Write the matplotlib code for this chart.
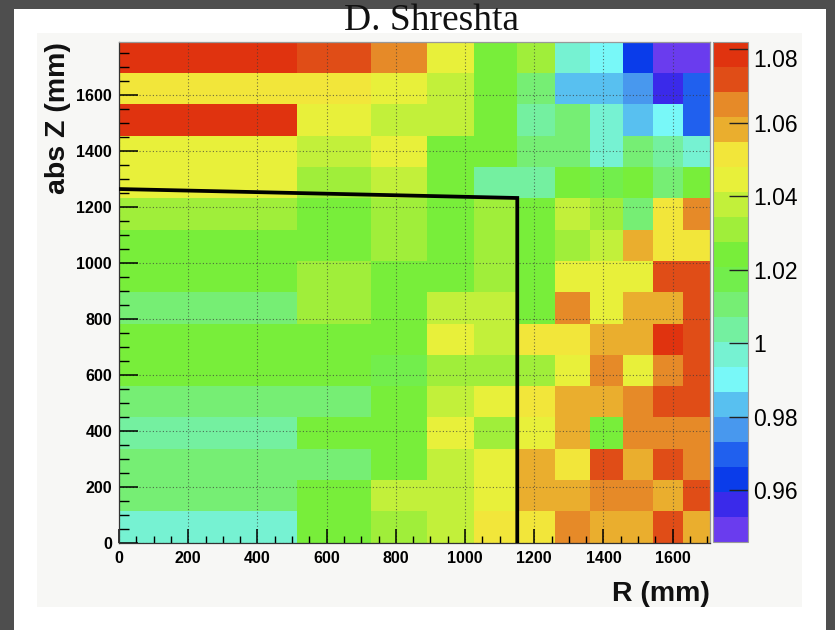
import numpy as np
import matplotlib
matplotlib.use("Agg")
from matplotlib import pyplot as plt
from matplotlib.colors import ListedColormap, BoundaryNorm
from matplotlib.ticker import MultipleLocator, FuncFormatter
from matplotlib.transforms import ScaledTranslation

# bin edges (mm)
r_edges = [0, 514, 727, 891, 1026, 1151, 1260, 1361, 1456, 1544, 1629, 1708]
z_edges = [0, 112, 224, 336, 448, 560, 672, 784, 896, 1008, 1120, 1232, 1344, 1456, 1568, 1680, 1792]

# cell values, one row per z bin (bottom row first), one column per r bin
ratio = [
    [0.997, 1.024, 1.031, 1.038, 1.051, 1.051, 1.065, 1.058, 1.058, 1.072, 1.058],
    [1.011, 1.024, 1.038, 1.038, 1.045, 1.058, 1.058, 1.065, 1.065, 1.058, 1.072],
    [1.011, 1.011, 1.024, 1.038, 1.045, 1.058, 1.051, 1.072, 1.058, 1.072, 1.065],
    [1.004, 1.024, 1.024, 1.045, 1.031, 1.045, 1.058, 1.024, 1.065, 1.065, 1.065],
    [1.011, 1.011, 1.024, 1.038, 1.045, 1.051, 1.058, 1.058, 1.065, 1.072, 1.072],
    [1.024, 1.024, 1.017, 1.031, 1.031, 1.031, 1.045, 1.065, 1.045, 1.065, 1.072],
    [1.024, 1.024, 1.024, 1.045, 1.038, 1.051, 1.051, 1.058, 1.058, 1.079, 1.072],
    [1.011, 1.031, 1.024, 1.038, 1.038, 1.024, 1.065, 1.045, 1.058, 1.058, 1.072],
    [1.024, 1.031, 1.024, 1.024, 1.031, 1.024, 1.045, 1.045, 1.045, 1.072, 1.072],
    [1.024, 1.024, 1.031, 1.024, 1.031, 1.024, 1.031, 1.038, 1.058, 1.051, 1.051],
    [1.031, 1.024, 1.031, 1.024, 1.031, 1.024, 1.038, 1.031, 1.011, 1.051, 1.065],
    [1.045, 1.031, 1.038, 1.024, 1.004, 1.004, 1.024, 1.017, 1.024, 1.011, 1.024],
    [1.045, 1.038, 1.045, 1.024, 1.024, 1.011, 1.011, 0.997, 1.011, 1.004, 0.997],
    [1.079, 1.045, 1.038, 1.038, 1.024, 1.004, 1.011, 0.997, 0.983, 0.990, 0.970],
    [1.051, 1.051, 1.045, 1.038, 1.024, 1.011, 0.983, 0.983, 0.977, 0.956, 0.970],
    [1.079, 1.072, 1.065, 1.045, 1.024, 1.031, 0.997, 0.990, 0.963, 0.949, 0.949],
]

# outline drawn over the map
boundary_r = [0, 1151, 1151]
boundary_z = [1265, 1233, 0]

cbar_ticks = [0.96, 0.98, 1.00, 1.02, 1.04, 1.06, 1.08]

palette = ['#6a3cee', '#3a2aea', '#0a3cea', '#2060ee', '#4898ee', '#58c0f0', '#78f8f8',
           '#76f2d2', '#74f0a0', '#76ee74', '#72ee4c', '#78ee3a', '#a0ee3a', '#c2f03a',
           '#e8f03a', '#f2e63a', '#eaae2e', '#e68a28', '#e04d17', '#e0330f']
levels = np.linspace(0.946, 1.082, len(palette) + 1)
cmap = ListedColormap(palette)
norm = BoundaryNorm(levels, cmap.N)

plt.rcParams['font.family'] = ['Liberation Sans', 'DejaVu Sans']

W, H = 835, 630
fig = plt.figure(figsize=(W / 100, H / 100), dpi=100, facecolor='#4e4e4e')


def box(x0, y0, x1, y1):
    return [x0 / W, 1 - y1 / H, (x1 - x0) / W, (y1 - y0) / H]


paper = fig.add_axes(box(14, 9, 826, 630))
paper.set_facecolor('white')
paper.set_xticks([])
paper.set_yticks([])
for s in paper.spines.values():
    s.set_visible(False)

canvas = fig.add_axes(box(37, 33, 802, 607))
canvas.set_facecolor('#f7f7f5')
canvas.set_xticks([])
canvas.set_yticks([])
for s in canvas.spines.values():
    s.set_visible(False)

ax = fig.add_axes(box(119, 41.7, 710, 542.7))
mesh = ax.pcolormesh(r_edges, z_edges, np.array(ratio), cmap=cmap, norm=norm)
ax.plot(boundary_r, boundary_z, color='black', linewidth=2.7, solid_joinstyle='miter', zorder=3)

ax.set_xlim(r_edges[0], r_edges[-1])
ax.set_ylim(z_edges[0], z_edges[-1])
ax.xaxis.set_major_locator(MultipleLocator(200))
ax.xaxis.set_minor_locator(MultipleLocator(50))
ax.yaxis.set_major_locator(MultipleLocator(200))
ax.yaxis.set_minor_locator(MultipleLocator(50))
ax.grid(True, which='major', color='#3a3a3a', linestyle=(0, (1, 2)), linewidth=0.8, alpha=0.7)

ax.tick_params(axis='x', which='major', direction='in', length=10, width=1.1, pad=6,
               labelsize=11.5, top=False)
ax.tick_params(axis='x', which='minor', direction='in', length=5, width=1.0, top=False)
ax.tick_params(axis='y', which='major', direction='in', length=13.5, width=1.1, pad=5,
               labelsize=11.5, right=False)
ax.tick_params(axis='y', which='minor', direction='in', length=7, width=1.0, right=False)
for lab in ax.get_xticklabels() + ax.get_yticklabels():
    lab.set_fontweight('bold')
for s in ax.spines.values():
    s.set_linewidth(0.9)
    s.set_color('#333333')
ax.spines['top'].set_color('#999999')
ax.spines['right'].set_color('#999999')

cax = fig.add_axes(box(713.3, 41.7, 747.7, 541.7))
cb = fig.colorbar(mesh, cax=cax)
cb.outline.set_edgecolor('#999999')
cb.outline.set_linewidth(0.8)
cb.set_ticks(cbar_ticks)
cb.ax.yaxis.set_major_formatter(FuncFormatter(lambda v, p: f"{v:g}"))
cb.ax.tick_params(direction='in', length=13.5, width=1.0, pad=4, labelsize=16.5, color='#222222')
cb.ax.minorticks_off()
# top label sits a little below its tick, as in the original
fig.canvas.draw()
top_label = cb.ax.get_yticklabels()[-1]
top_label.set_transform(top_label.get_transform() + ScaledTranslation(0, -0.09, fig.dpi_scale_trans))

fig.text(432 / W, 1 - 21 / H, "D. Shreshta", ha='center', va='center',
         family=['Liberation Serif', 'DejaVu Serif'], fontsize=27, color='#111111')
fig.text(58 / W, 1 - 118 / H, "abs Z (mm)", rotation=90, ha='center', va='center',
         fontsize=20.5, fontweight='bold', color='#111111')
fig.text(710 / W, 1 - 594 / H, "R (mm)", ha='right', va='center',
         fontsize=20.5, fontweight='bold', color='#111111')

fig.savefig("out.png", dpi=100, facecolor=fig.get_facecolor())
